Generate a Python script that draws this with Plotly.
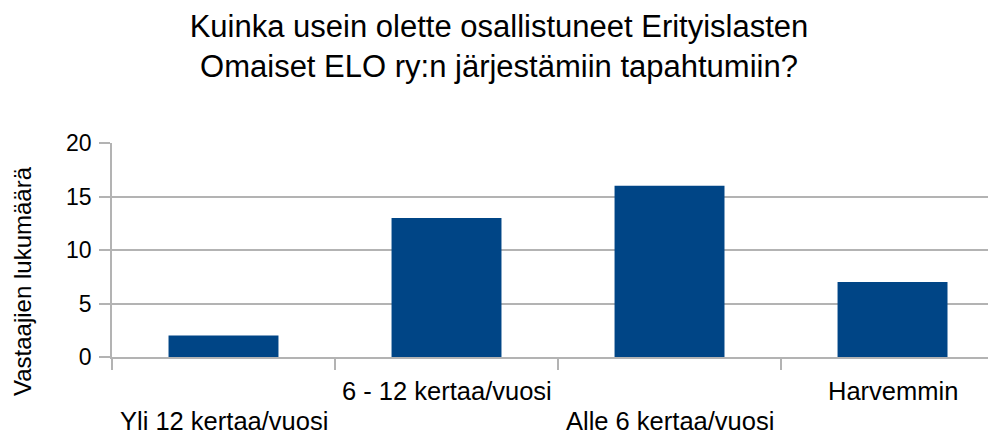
import plotly.graph_objects as go

categories = ["Yli 12 kertaa/vuosi", "6 - 12 kertaa/vuosi", "Alle 6 kertaa/vuosi", "Harvemmin"]
values = [2, 13, 16, 7]
y_ticks = [0, 5, 10, 15, 20]

title_text = "Kuinka usein olette osallistuneet Erityislasten<br>Omaiset ELO ry:n järjestämiin tapahtumiin?"
y_title = "Vastaajien lukumäärä"

FONT = "Liberation Sans, Arial, sans-serif"
GRID = "#b3b3b3"
BAR = "#004586"

# page body has an 8px default margin; work in page pixels and subtract it
OFF = 8
W, H = 996 - OFF, 434 - OFF
PL, PR, PT, PB = 112 - OFF, 0, 143 - OFF, 434 - 357

fig = go.Figure()
fig.add_trace(go.Bar(x=categories, y=values, marker=dict(color=BAR, line=dict(width=0))))

# staggered category labels
for i, c in enumerate(categories):
    fig.add_annotation(
        x=c, y=0, xref="x", yref="paper",
        text=c, showarrow=False,
        yanchor="middle", xanchor="center",
        yshift=-34 if i % 2 == 1 else -64,
        font=dict(family=FONT, size=25.5, color="#000000"),
    )

plot_w = W - PL - PR
plot_h = H - PT - PB
fig.add_annotation(
    x=(22 - 112) / plot_w, y=(357 - 281) / plot_h, xref="paper", yref="paper",
    text=y_title, showarrow=False,
    textangle=-90, font=dict(family=FONT, size=24, color="#000000"),
    xanchor="center", yanchor="middle",
)

fig.update_layout(
    width=W, height=H,
    margin=dict(l=PL, r=PR, t=PT, b=PB, autoexpand=False),
    paper_bgcolor="white", plot_bgcolor="white",
    showlegend=False,
    bargap=0.507,
    title=dict(text=title_text, x=(499 - OFF) / W, xanchor="center", xref="container",
               y=1 - (37 - OFF) / H, yanchor="middle", yref="container",
               font=dict(family=FONT, size=31, color="#000000")),
    xaxis=dict(
        type="category", range=[-0.5, 3.464],
        showticklabels=False, ticks="outside", ticklen=11, tickcolor=GRID, tickwidth=1.5,
        tickson="boundaries", showgrid=False, showline=True, linecolor=GRID, linewidth=1.5,
        zeroline=False,
    ),
    yaxis=dict(
        range=[0, 20], tickvals=y_ticks, ticks="outside", ticklen=11, tickcolor=GRID, tickwidth=1.5,
        showgrid=True, gridcolor=GRID, gridwidth=1.5, showline=True, linecolor=GRID, linewidth=1.5,
        zeroline=False, tickfont=dict(family=FONT, size=23, color="#000000"), ticklabelstandoff=3,
    ),
)

fig.write_html("out.html")
